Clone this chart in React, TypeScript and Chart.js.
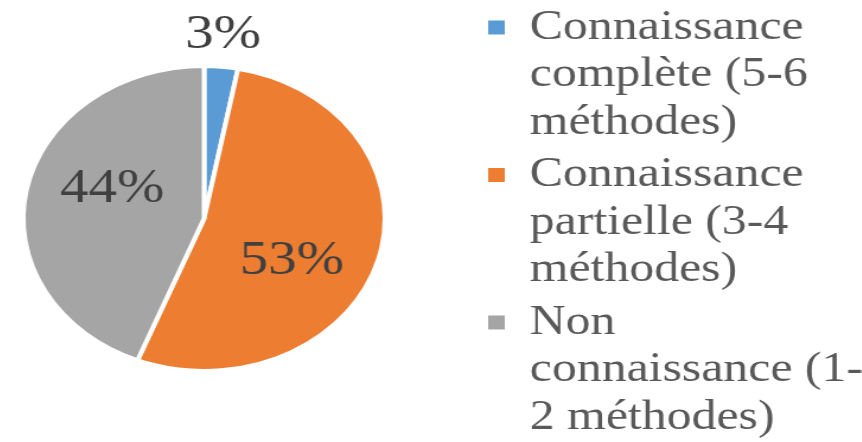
import React, { useEffect, useRef } from "react";
import { Chart, registerables } from "chart.js";

Chart.register(...registerables);

// ---- data ----
const categories: string[][] = [
  ["Connaissance", "complète (5-6", "méthodes)"],
  ["Connaissance", "partielle (3-4", "méthodes)"],
  ["Non", "connaissance (1-", "2 méthodes)"],
];
const values: number[] = [3, 53, 44];
const colors: string[] = ["#5B9BD5", "#ED7D31", "#A5A5A5"];

// ---- layout (the original picture is stretched horizontally) ----
const SCALE_X = 1.186;
const CANVAS_W = 789;
const CANVAS_H = 462;
const OFFSET_X = -62; // canvas units
const OFFSET_Y = -12; // px
const FONT_FAMILY = '"Liberation Serif", "Times New Roman", serif';

// data-label placement: fraction along each arc, and fraction of the outer radius
const labelAlong: number[] = [0.454, 0.563, 0.575];
const labelRadial: number[] = [1.2275, 0.551, 0.5515];
const LABEL_SIZE = 48;

const pieLabels = {
  id: "pieLabels",
  afterDatasetsDraw(chart: any) {
    const ctx = chart.ctx;
    const meta = chart.getDatasetMeta(0);
    const data = chart.data.datasets[0].data as number[];
    const total = data.reduce((a, b) => a + b, 0);
    ctx.save();
    ctx.font = `${LABEL_SIZE}px ${FONT_FAMILY}`;
    ctx.fillStyle = "#404040";
    ctx.textAlign = "center";
    ctx.textBaseline = "alphabetic";
    meta.data.forEach((arc: any, i: number) => {
      const p = arc.getProps(["x", "y", "startAngle", "endAngle", "outerRadius"], true);
      const a = p.startAngle + (p.endAngle - p.startAngle) * labelAlong[i];
      const r = p.outerRadius * labelRadial[i];
      const x = p.x + Math.cos(a) * r;
      const y = p.y + Math.sin(a) * r;
      const txt = Math.round((data[i] / total) * 100) + "%";
      ctx.fillText(txt, x, y + LABEL_SIZE * 0.338);
    });
    ctx.restore();
  },
};

export default function App() {
  const ref = useRef<HTMLCanvasElement | null>(null);

  useEffect(() => {
    document.body.style.margin = "0";
    const canvas = ref.current;
    if (!canvas) return;
    const chart = new Chart(canvas, {
      type: "pie",
      data: {
        labels: categories as any,
        datasets: [
          {
            data: values,
            backgroundColor: colors,
            borderColor: "#ffffff",
            borderWidth: 4,
            radius: 152.5,
          } as any,
        ],
      },
      options: {
        responsive: false,
        maintainAspectRatio: false,
        animation: false,
        devicePixelRatio: 1,
        events: [],
        layout: { padding: { top: 0, bottom: 1, left: 0, right: 0 } },
        plugins: {
          legend: {
            position: "right",
            align: "end",
            maxWidth: 320,
            labels: {
              boxWidth: 14,
              boxHeight: 14,
              padding: 5,
              color: "#595959",
              font: { family: FONT_FAMILY, size: 42, lineHeight: 1.131 },
              generateLabels: (c: any) =>
                (c.data.labels as string[][]).map((t, i) => ({
                  text: t,
                  fillStyle: colors[i],
                  strokeStyle: colors[i],
                  lineWidth: 0,
                  fontColor: "#595959",
                  hidden: false,
                  index: i,
                })),
            },
          } as any,
          tooltip: { enabled: false },
        },
      },
      plugins: [pieLabels],
    });
    return () => chart.destroy();
  }, []);

  return (
    <div style={{ position: "relative", width: 862, height: 442, overflow: "hidden", background: "#fff" }}>
      <div
        style={{
          position: "absolute",
          left: OFFSET_X * SCALE_X,
          top: OFFSET_Y,
          width: CANVAS_W,
          height: CANVAS_H,
          transform: `scaleX(${SCALE_X})`,
          transformOrigin: "0 0",
        }}
      >
        <canvas
          ref={ref}
          width={CANVAS_W}
          height={CANVAS_H}
          style={{ display: "block", width: CANVAS_W, height: CANVAS_H }}
        />
      </div>
    </div>
  );
}
